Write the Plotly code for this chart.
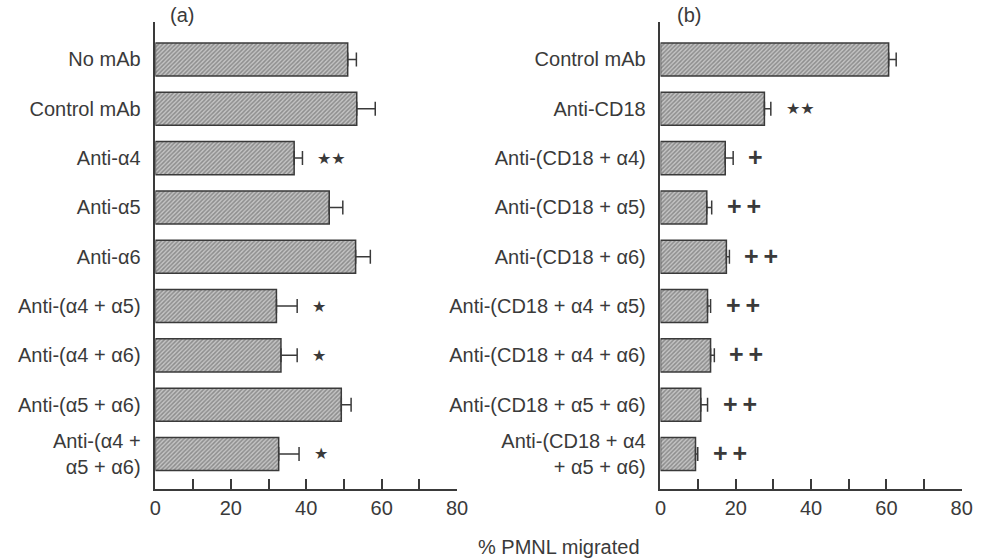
import plotly.graph_objects as go

labels_a = ["No mAb", "Control mAb", "Anti-α4", "Anti-α5", "Anti-α6",
            "Anti-(α4 + α5)", "Anti-(α4 + α6)", "Anti-(α5 + α6)",
            "Anti-(α4 +<br>α5 + α6)"]
means_a = [51.0, 53.4, 36.8, 46.1, 53.1, 32.1, 33.3, 49.3, 32.7]
errs_a = [2.3, 4.9, 2.2, 3.6, 3.9, 5.5, 4.3, 2.6, 5.4]
marks_a = ["", "", "**", "", "", "*", "*", "", "*"]

labels_b = ["Control mAb", "Anti-CD18", "Anti-(CD18 + α4)", "Anti-(CD18 + α5)",
            "Anti-(CD18 + α6)", "Anti-(CD18 + α4 + α5)", "Anti-(CD18 + α4 + α6)",
            "Anti-(CD18 + α5 + α6)", "Anti-(CD18 + α4<br>+ α5 + α6)"]
means_b = [60.6, 27.6, 17.2, 12.3, 17.5, 12.5, 13.3, 10.7, 9.3]
errs_b = [2.0, 1.7, 2.1, 1.3, 0.8, 0.8, 1.0, 1.8, 0.6]
marks_b = ["", "**", "+", "++", "++", "++", "++", "++", "++"]

x_ticks = [0, 10, 20, 30, 40, 50, 60, 70, 80]
x_ticktext = ["0", "", "20", "", "40", "", "60", "", "80"]

INK = "#3a3a3a"
FONT = "Liberation Sans, Arial, sans-serif"

fig = go.Figure()

def add_panel(labels, means, errs, xa, ya):
    pos = list(range(len(labels)))
    fig.add_trace(go.Bar(
        x=means, y=pos, orientation="h", width=0.67,
        xaxis=xa, yaxis=ya,
        marker=dict(color="#c4c4c4",
                    line=dict(color=INK, width=1.5),
                    pattern=dict(shape="/", size=3, solidity=0.5,
                                 fgcolor="#555555", bgcolor="#c4c4c4")),
        error_x=dict(type="data", symmetric=False, array=errs,
                     arrayminus=[0] * len(errs), color=INK,
                     thickness=1.5, width=7),
        showlegend=False, hoverinfo="skip"))

add_panel(labels_a, means_a, errs_a, "x", "y")
add_panel(labels_b, means_b, errs_b, "x2", "y2")

def mark_annotations(means, errs, marks, xref, yref):
    for i, (m, e, t) in enumerate(zip(means, errs, marks)):
        if not t:
            continue
        if "+" in t:
            txt = "<b>" + "\u2009".join(list(t)) + "</b>"
            font = dict(family="Liberation Sans, Arial", size=25, color=INK)
            ys = 1
        else:
            txt = "".join(["★"] * len(t))
            font = dict(family="DejaVu Sans", size=16, color=INK)
            ys = 0
        fig.add_annotation(x=m + e, y=i, xref=xref, yref=yref, text=txt,
                           showarrow=False, xanchor="left", yanchor="middle",
                           xshift=13, yshift=ys, font=font)

mark_annotations(means_a, errs_a, marks_a, "x", "y")
mark_annotations(means_b, errs_b, marks_b, "x2", "y2")

xcommon = dict(range=[0, 80], tickvals=x_ticks, ticktext=x_ticktext,
               ticks="inside", ticklen=10, tickwidth=1.5, tickcolor=INK,
               showline=True, linecolor=INK, linewidth=1.5,
               showgrid=False, zeroline=False,
               tickfont=dict(family=FONT, size=20, color=INK))
ycommon = dict(range=[8.71, -0.76], tickvals=list(range(9)),
               ticks="", showline=True, linecolor=INK, linewidth=1.5,
               showgrid=False, zeroline=False, ticklabelstandoff=9,
               tickfont=dict(family=FONT, size=20, color=INK))

ydom = [1 - 489 / 558, 1 - 22 / 558]
fig.update_layout(
    width=984, height=558,
    margin=dict(l=0, r=0, t=0, b=0),
    paper_bgcolor="white", plot_bgcolor="white",
    xaxis=dict(domain=[152 / 984, 459 / 984], anchor="y", **xcommon),
    yaxis=dict(domain=ydom, anchor="x", ticktext=labels_a, **ycommon),
    xaxis2=dict(domain=[666 / 984, 972.5 / 984], anchor="y2", **xcommon),
    yaxis2=dict(domain=ydom, anchor="x2", ticktext=labels_b, **ycommon),
    font=dict(family=FONT, color=INK),
)

fig.add_annotation(x=165 / 984, y=1 - 15 / 558, xref="paper", yref="paper",
                   text="(a)", showarrow=False, xanchor="left", yanchor="middle",
                   font=dict(family=FONT, size=20, color=INK))
fig.add_annotation(x=681 / 984, y=1 - 15 / 558, xref="paper", yref="paper",
                   text="(b)", showarrow=False, xanchor="left", yanchor="middle",
                   font=dict(family=FONT, size=20, color=INK))
fig.add_annotation(x=563 / 984, y=1 - 547 / 558, xref="paper", yref="paper",
                   text="% PMNL migrated", showarrow=False, xanchor="center",
                   yanchor="middle", font=dict(family=FONT, size=20, color=INK))

fig.write_html("out.html")
